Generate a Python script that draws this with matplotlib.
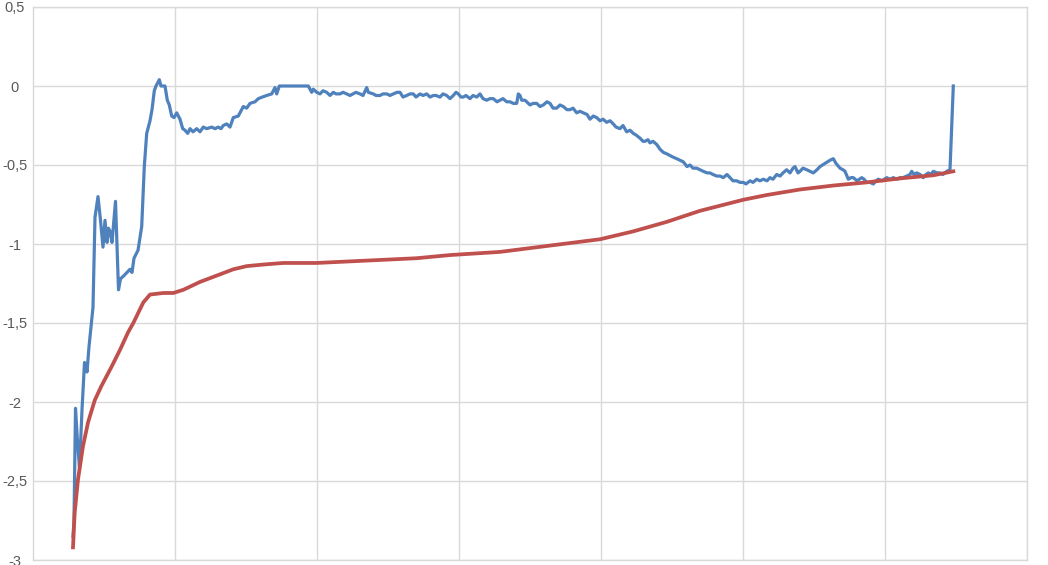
import matplotlib
matplotlib.use("Agg")
import matplotlib.pyplot as plt

# sample positions (arbitrary units, no x labels in the chart)
blue_x = [73, 74, 75.5, 77.5, 79.5, 82, 84.5, 86, 87, 89, 91.5, 93, 95, 98, 100.5, 103, 105, 107, 108.5, 110,
          112, 115.5, 118.5, 120.5, 124, 127, 130, 132, 134, 138, 141.7, 144.3, 146.7, 150, 152, 154.3, 156,
          159.3, 161, 165, 167.3, 169.3, 171.7, 174, 176.7, 180, 182.7, 185, 187.7, 190, 193, 196.7, 200,
          203.3, 206.7, 211.7, 215, 218.3, 221, 223.3, 226.7, 230, 233.3, 238.3, 243.3, 246.7, 250, 255,
          258.3, 262.3, 266.7, 271.7, 275, 276.7, 279.3, 308.3, 311.7, 313.3, 316.7, 320, 323, 326.7, 330,
          333.3, 336, 340, 343, 346.7, 350, 353, 356, 360, 363, 366.7, 368.3, 373.3, 376, 380, 383, 386.7,
          390, 393.3, 397, 400, 403, 406.7, 410, 413.3, 416, 420, 423, 426.7, 430, 433.3, 436, 440, 443,
          446.7, 450, 453.3, 456, 458.3, 461, 463.3, 466, 470, 473, 476.7, 480, 483, 486.7, 490, 493.3, 497,
          500, 503, 506.7, 510, 513.3, 516.7, 518.3, 520, 521.7, 525, 530, 533, 536.7, 540, 543.3, 547, 550,
          553, 556.7, 560, 563.3, 567, 570, 573, 576.7, 580, 583.3, 587, 590, 593.3, 596.7, 600, 603, 606.7,
          610, 613.3, 616, 620, 623, 626.7, 630, 633.3, 636, 640, 643, 645, 648, 650, 653, 656.7, 660, 663.3,
          667, 670, 673, 676.7, 680, 683.3, 687, 690, 693, 696.7, 700, 703.3, 707, 710, 713, 716.7, 720,
          723.3, 727, 730, 733, 736.7, 740, 743.3, 746, 750, 753, 756.7, 760, 763.3, 767, 770, 773, 776.7,
          780, 783, 786.7, 790, 793, 795, 798, 800, 803, 806.7, 810, 813.3, 817, 820, 825, 830, 833.3, 836,
          840, 843, 845, 848.3, 851, 853.3, 857, 861.7, 864, 866.7, 870, 873.3, 876, 878.3, 882, 886.7, 890,
          893.3, 897, 900, 903, 906.7, 910, 911.7, 914, 916.7, 920, 923.3, 926, 928.3, 931, 933.3, 937, 940,
          943, 946.7, 950, 953.3]
blue_y = [-2.85, -2.75, -2.04, -2.25, -2.42, -2.05, -1.75, -1.77, -1.81, -1.65, -1.49, -1.40, -0.83, -0.70,
          -0.85, -1.02, -0.85, -0.99, -0.90, -0.92, -0.99, -0.73, -1.29, -1.22, -1.20, -1.18, -1.16, -1.18,
          -1.09, -1.04, -0.89, -0.51, -0.30, -0.22, -0.15, -0.03, 0.00, 0.04, 0.00, 0.00, -0.09, -0.12, -0.19,
          -0.20, -0.17, -0.21, -0.27, -0.28, -0.30, -0.27, -0.29, -0.27, -0.29, -0.26, -0.27, -0.26, -0.27,
          -0.26, -0.27, -0.25, -0.24, -0.26, -0.20, -0.19, -0.13, -0.14, -0.11, -0.10, -0.08, -0.07, -0.06,
          -0.05, -0.01, -0.05, 0.00, 0.00, -0.04, -0.02, -0.04, -0.05, -0.03, -0.04, -0.06, -0.04, -0.05,
          -0.05, -0.04, -0.05, -0.06, -0.05, -0.04, -0.05, -0.06, -0.01, -0.04, -0.05, -0.06, -0.06, -0.05,
          -0.05, -0.06, -0.05, -0.04, -0.04, -0.07, -0.06, -0.05, -0.05, -0.07, -0.05, -0.06, -0.05, -0.07,
          -0.06, -0.06, -0.07, -0.05, -0.06, -0.08, -0.06, -0.04, -0.05, -0.07, -0.07, -0.06, -0.08, -0.06,
          -0.07, -0.05, -0.08, -0.09, -0.08, -0.08, -0.10, -0.09, -0.08, -0.10, -0.10, -0.11, -0.11, -0.05,
          -0.06, -0.09, -0.09, -0.12, -0.11, -0.11, -0.13, -0.12, -0.10, -0.11, -0.14, -0.14, -0.12, -0.13,
          -0.15, -0.15, -0.14, -0.17, -0.16, -0.17, -0.18, -0.21, -0.19, -0.20, -0.22, -0.21, -0.23, -0.22,
          -0.24, -0.26, -0.27, -0.25, -0.29, -0.28, -0.30, -0.31, -0.33, -0.35, -0.35, -0.34, -0.36, -0.35,
          -0.37, -0.40, -0.42, -0.43, -0.44, -0.45, -0.46, -0.47, -0.48, -0.51, -0.50, -0.52, -0.52, -0.53,
          -0.54, -0.55, -0.55, -0.56, -0.57, -0.57, -0.58, -0.56, -0.58, -0.60, -0.60, -0.61, -0.61, -0.62,
          -0.60, -0.61, -0.59, -0.60, -0.59, -0.60, -0.58, -0.59, -0.56, -0.57, -0.55, -0.53, -0.55, -0.52,
          -0.51, -0.55, -0.54, -0.52, -0.53, -0.54, -0.55, -0.53, -0.51, -0.49, -0.47, -0.46, -0.49, -0.52,
          -0.53, -0.54, -0.59, -0.58, -0.58, -0.60, -0.58, -0.59, -0.61, -0.61, -0.62, -0.60, -0.59, -0.60,
          -0.58, -0.59, -0.58, -0.59, -0.58, -0.58, -0.57, -0.56, -0.54, -0.56, -0.55, -0.56, -0.58, -0.56,
          -0.55, -0.56, -0.54, -0.55, -0.55, -0.56, -0.54, -0.53, 0.00]

red_x = [73, 74.7, 78, 83, 88, 94.7, 101.3, 111.3, 120, 128, 133.3, 143.3, 150, 163.3, 173.3, 183.3, 200,
         216.7, 233.3, 246.7, 263.3, 283.3, 316.7, 350, 383.3, 416.7, 450, 500, 550, 600, 633.3, 666.7, 700,
         743.3, 766.7, 800, 833.3, 866.7, 900, 933.3, 953.3]
red_y = [-2.92, -2.70, -2.49, -2.28, -2.13, -1.99, -1.90, -1.78, -1.67, -1.56, -1.50, -1.37, -1.32, -1.31,
         -1.31, -1.29, -1.24, -1.20, -1.16, -1.14, -1.13, -1.12, -1.12, -1.11, -1.10, -1.09, -1.07, -1.05,
         -1.01, -0.97, -0.92, -0.86, -0.79, -0.72, -0.69, -0.655, -0.63, -0.61, -0.585, -0.565, -0.54]

y_ticks = [-3, -2.5, -2, -1.5, -1, -0.5, 0, 0.5]
y_tick_labels = ["-3", "-2,5", "-2", "-1,5", "-1", "-0,5", "0", "0,5"]
x_grid = [175, 317, 459, 601, 743, 885, 1027]

fig = plt.figure(figsize=(10.48, 5.65), dpi=100)
ax = fig.add_axes([33 / 1048, 1 - 560 / 565, (1027 - 33) / 1048, (560 - 7) / 565])

grid_c = "#d9d9d9"
ax.plot(blue_x, blue_y, color="#4f81bd", lw=2.3, zorder=3, solid_joinstyle="round")
ax.plot(red_x, red_y, color="#c0504d", lw=2.7, zorder=4, solid_joinstyle="round")

ax.set_xlim(33, 1027)
ax.set_ylim(-3, 0.5)
ax.set_xticks(x_grid)
ax.set_xticklabels([])
ax.set_yticks(y_ticks)
ax.set_yticklabels(y_tick_labels, fontsize=10.5, color="#595959", family="Liberation Sans")
for lab in ax.get_yticklabels():
    lab.set_horizontalalignment("center")
ax.tick_params(axis="y", length=0, pad=13)
ax.tick_params(axis="x", length=0)
ax.grid(True, color=grid_c, lw=1.0, zorder=0)
for s in ax.spines.values():
    s.set_color(grid_c)
    s.set_linewidth(1.0)

fig.savefig("out.png", dpi=100)
